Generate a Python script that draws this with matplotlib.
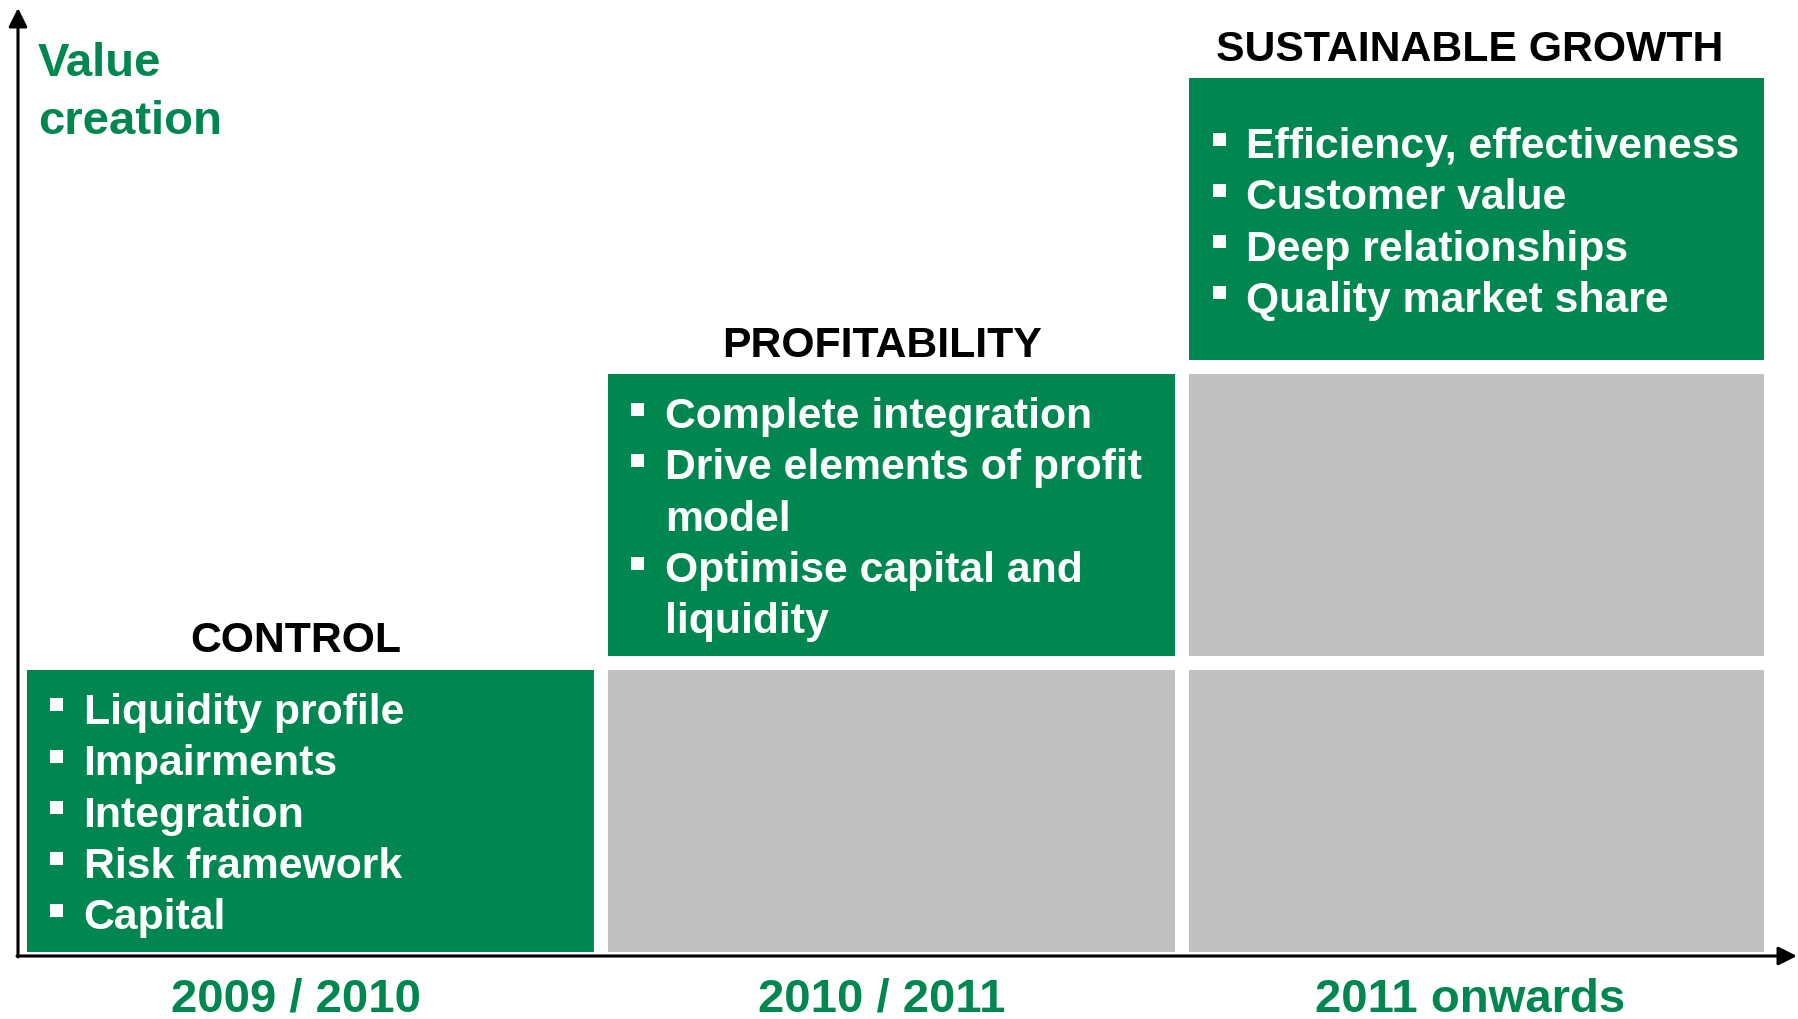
import matplotlib
matplotlib.use("Agg")
import matplotlib.pyplot as plt
from matplotlib.patches import Rectangle

# ---- data ----
phases = ["CONTROL", "PROFITABILITY", "SUSTAINABLE GROWTH"]
periods = ["2009 / 2010", "2010 / 2011", "2011 onwards"]
levels = [1, 2, 3]  # row (from bottom) occupied by the green box
control_items = ["Liquidity profile", "Impairments", "Integration",
                 "Risk framework", "Capital"]
profitability_items = ["Complete integration",
                       "Drive elements of profit\nmodel",
                       "Optimise capital and\nliquidity"]
growth_items = ["Efficiency, effectiveness", "Customer value",
                "Deep relationships", "Quality market share"]
y_axis_label = "Value\ncreation"

# ---- style / layout ----
W, H = 1798, 1019
GREEN = "#00874F"
GREY = "#C0C0C0"
FONT = "Liberation Sans"

col_left = [26.5, 607.7, 1189.3]
col_width = [567, 567, 574.4]
row_bottom = [951.5, 655.7, 360]   # bottom edge of row 1,2,3 (pixel y, top-down)
row_height = 282
line_h = 51.3
FS = 30.8

fig = plt.figure(figsize=(W / 100, H / 100), dpi=100)
ax = fig.add_axes([0, 0, 1, 1])
ax.set_xlim(0, W)
ax.set_ylim(H, 0)
ax.axis("off")

items_all = [control_items, profitability_items, growth_items]
header_x = [296, 882, 1470]

for c in range(3):
    x0 = col_left[c]
    for r in range(3):
        if r + 1 > levels[c]:
            continue
        top = row_bottom[r] - row_height
        color = GREEN if r + 1 == levels[c] else GREY
        ax.add_patch(Rectangle((x0, top), col_width[c], row_height,
                               facecolor=color, edgecolor="none", zorder=1))
    # green box text
    r = levels[c] - 1
    top = row_bottom[r] - row_height
    center = top + row_height / 2
    lines = []
    for item in items_all[c]:
        for k, ln in enumerate(item.split("\n")):
            lines.append((ln, k == 0))
    n = len(lines)
    for i, (ln, bullet) in enumerate(lines):
        base = center + 16 + (i - (n - 1) / 2) * line_h
        ax.text(x0 + 57, base, ln, color="white", fontsize=FS,
                fontweight="bold", family=FONT, va="baseline", ha="left",
                zorder=3)
        if bullet:
            ax.add_patch(Rectangle((x0 + 23.5, base - 25.5), 13, 13,
                                   facecolor="white", edgecolor="none",
                                   zorder=3))
    # header
    ax.text(header_x[c], top - 17, phases[c], color="black", fontsize=FS,
            fontweight="bold", family=FONT, va="baseline", ha="center")
    # period label
    ax.text(header_x[c], 1012, periods[c], color=GREEN, fontsize=34,
            fontweight="bold", family=FONT, va="baseline", ha="center")

# y-axis label
ax.text(38, 76, y_axis_label.split("\n")[0], color=GREEN, fontsize=34,
        fontweight="bold", family=FONT, va="baseline", ha="left")
ax.text(38, 134, y_axis_label.split("\n")[1], color=GREEN, fontsize=34,
        fontweight="bold", family=FONT, va="baseline", ha="left")

# axes arrows
arrow = dict(arrowstyle="-|>", lw=2.2, color="black", mutation_scale=28,
             shrinkA=0, shrinkB=0)
ax.annotate("", xy=(18, 8), xytext=(18, 957), arrowprops=arrow, zorder=5)
ax.annotate("", xy=(1797, 956), xytext=(17, 956), arrowprops=arrow, zorder=5)

fig.savefig("out.png", dpi=100, facecolor="white")
